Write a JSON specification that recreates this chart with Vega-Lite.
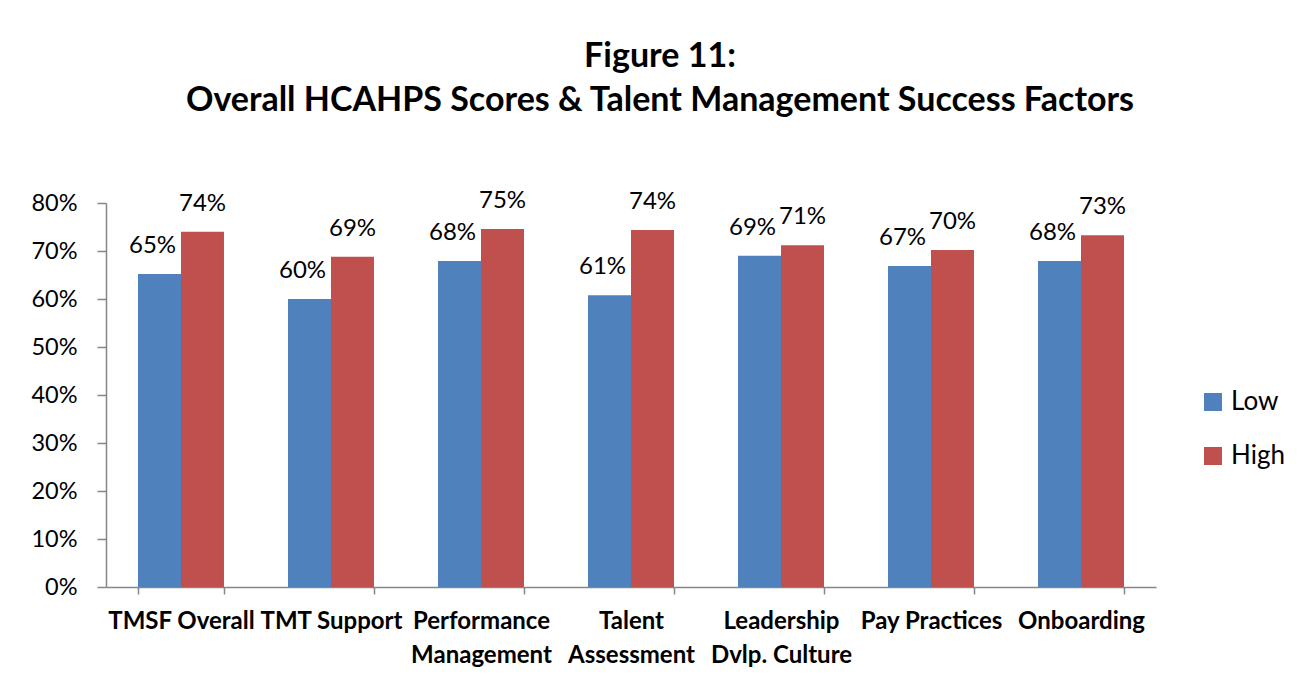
{
  "$schema": "https://vega.github.io/schema/vega-lite/v6.json",
  "width": 1050,
  "height": 384,
  "autosize": {"type": "none"},
  "padding": {"left": 106, "top": 203, "right": 143, "bottom": 91},
  "background": "white",
  "config": {
    "font": "Lato",
    "view": {"stroke": null}
  },
  "title": {
    "text": ["Figure 11:", "Overall HCAHPS Scores & Talent Management Success Factors"],
    "fontSize": 34,
    "font": "Lato",
    "fontWeight": "bold",
    "color": "black",
    "lineHeight": 44,
    "anchor": "middle",
    "dx": 29,
    "offset": 71
  },
  "data": {
    "values": [
      {"factor": "TMSF Overall", "group": "Low", "value": 0.652},
      {"factor": "TMSF Overall", "group": "High", "value": 0.740},
      {"factor": "TMT Support", "group": "Low", "value": 0.600},
      {"factor": "TMT Support", "group": "High", "value": 0.688},
      {"factor": "Performance|Management", "group": "Low", "value": 0.679},
      {"factor": "Performance|Management", "group": "High", "value": 0.746},
      {"factor": "Talent|Assessment", "group": "Low", "value": 0.608},
      {"factor": "Talent|Assessment", "group": "High", "value": 0.744},
      {"factor": "Leadership|Dvlp. Culture", "group": "Low", "value": 0.690},
      {"factor": "Leadership|Dvlp. Culture", "group": "High", "value": 0.712},
      {"factor": "Pay Practices", "group": "Low", "value": 0.669},
      {"factor": "Pay Practices", "group": "High", "value": 0.702},
      {"factor": "Onboarding", "group": "Low", "value": 0.679},
      {"factor": "Onboarding", "group": "High", "value": 0.733}
    ]
  },
  "encoding": {
    "x": {
      "field": "factor",
      "type": "nominal",
      "sort": null,
      "scale": {"paddingInner": 0.4267, "paddingOuter": 0.2133},
      "axis": {
        "title": null,
        "labelAngle": 0,
        "labelFont": "Lato",
        "labelFontSize": 24,
        "labelFontWeight": "bold",
        "labelColor": "black",
        "labelExpr": "split(datum.label, '|')",
        "labelLineHeight": 34,
        "labelPadding": 15,
        "labelLimit": 400,
        "tickBand": "extent",
        "tickSize": 7,
        "tickColor": "#868686",
        "tickWidth": 1.5,
        "domainColor": "#868686",
        "domainWidth": 1.5
      }
    },
    "xOffset": {
      "field": "group",
      "type": "nominal",
      "sort": ["Low", "High"],
      "scale": {"paddingInner": 0, "paddingOuter": 0}
    },
    "y": {
      "field": "value",
      "type": "quantitative",
      "scale": {"domain": [0, 0.8], "nice": false},
      "axis": {
        "title": null,
        "grid": false,
        "format": ".0%",
        "values": [0, 0.1, 0.2, 0.3, 0.4, 0.5, 0.6, 0.7, 0.8],
        "labelFont": "Lato",
        "labelFontSize": 23.5,
        "labelColor": "black",
        "labelPadding": 20,
        "tickSize": 9,
        "tickColor": "#868686",
        "tickWidth": 1.5,
        "domainColor": "#868686",
        "domainWidth": 1.5
      }
    }
  },
  "layer": [
    {
      "mark": {"type": "bar"},
      "encoding": {
        "color": {
          "field": "group",
          "type": "nominal",
          "sort": ["Low", "High"],
          "scale": {"domain": ["Low", "High"], "range": ["#4F81BD", "#C0504D"]},
          "legend": {
            "title": null,
            "orient": "none",
            "legendX": 1094,
            "legendY": 186,
            "symbolType": "square",
            "symbolSize": 324,
            "symbolStrokeWidth": 0,
            "labelFont": "Lato",
            "labelFontSize": 26,
            "labelColor": "black",
            "labelOffset": 5,
            "rowPadding": 28
          }
        }
      }
    },
    {
      "transform": [{"filter": "datum.group === 'Low'"}],
      "mark": {"type": "text", "fontSize": 24, "font": "Lato", "color": "black", "baseline": "alphabetic", "dy": -21, "dx": -7},
      "encoding": {
        "text": {"field": "value", "type": "quantitative", "format": ".0%"}
      }
    },
    {
      "transform": [{"filter": "datum.group === 'High'"}],
      "mark": {"type": "text", "fontSize": 24, "font": "Lato", "color": "black", "baseline": "alphabetic", "dy": -21},
      "encoding": {
        "text": {"field": "value", "type": "quantitative", "format": ".0%"}
      }
    }
  ]
}
